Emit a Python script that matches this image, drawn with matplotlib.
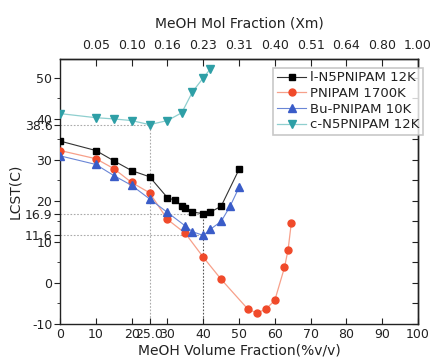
import matplotlib
matplotlib.use("Agg")
import matplotlib.pyplot as plt
from matplotlib.ticker import MultipleLocator, FixedLocator

# ---- data ----
ln5_x = [0, 10, 15, 20, 25, 30, 32, 34, 35, 37, 40, 42, 45, 50]
ln5_y = [34.6, 32.3, 29.8, 27.4, 25.9, 20.8, 20.2, 18.8, 18.3, 17.3, 16.9, 17.3, 18.7, 27.7]

pnipam_x = [0, 10, 15, 20, 25, 30, 35, 40, 45, 52.5, 55, 57.5, 60, 62.7, 63.7, 64.6]
pnipam_y = [32.3, 30.3, 27.9, 24.5, 22.0, 15.5, 12.1, 6.3, 0.9, -6.4, -7.3, -6.4, -4.2, 3.8, 8.1, 14.6]

bu_x = [0, 10, 15, 20, 25, 30, 35, 37, 40, 42, 45, 47.5, 50]
bu_y = [31.0, 28.9, 26.2, 23.8, 20.5, 17.2, 13.9, 12.5, 11.6, 13.1, 15.0, 18.7, 23.3]

cn5_x = [0, 10, 15, 20, 25, 30, 34, 37, 40, 42]
cn5_y = [41.3, 40.3, 40.0, 39.6, 38.6, 39.6, 41.5, 46.6, 50.0, 52.2]

labels = ["l-N5PNIPAM 12K", "PNIPAM 1700K", "Bu-PNIPAM 10K", "c-N5PNIPAM 12K"]

x_ticks = [0, 10, 20, 30, 40, 50, 60, 70, 80, 90, 100]
y_ticks = [-10, 0, 10, 20, 30, 40, 50]
mol_ticks = [10, 20, 30, 40, 50, 60, 70, 80, 90, 100]
mol_labels = ["0.05", "0.10", "0.16", "0.23", "0.31", "0.40", "0.51", "0.64", "0.80", "1.00"]

# reference (guide) values
ref_c_x, ref_c_y = 25.0, 38.6       # c-N5PNIPAM minimum
ref_l_x, ref_l_y = 40.0, 16.9       # l-N5PNIPAM minimum
ref_b_y = 11.6                      # Bu-PNIPAM minimum

# ---- figure ----
fig = plt.figure(figsize=(4.35, 3.6), dpi=100)
ax = fig.add_axes([0.138, 0.1, 0.823, 0.736])
ax.set_xlim(0, 100)
ax.set_ylim(-10, 54.6)

txt = "#222222"
guide = "#aaaaaa"

# guide lines
ax.plot([0, ref_c_x], [ref_c_y, ref_c_y], ls=(0, (1.5, 1.5)), color=guide, lw=0.8, zorder=1)
ax.plot([ref_c_x, ref_c_x], [-10, ref_c_y], ls=(0, (1.5, 1.5)), color=guide, lw=0.8, zorder=1)
ax.plot([0, ref_l_x], [ref_l_y, ref_l_y], ls=(0, (1.5, 1.5)), color=guide, lw=0.8, zorder=1)
ax.plot([0, ref_l_x], [ref_b_y, ref_b_y], ls=(0, (1.5, 1.5)), color=guide, lw=0.8, zorder=1)
ax.plot([ref_l_x, ref_l_x], [-10, ref_l_y], ls=(0, (1.5, 1.5)), color="#555555", lw=0.8, zorder=1)

ax.plot(ln5_x, ln5_y, color="#333333", lw=0.8, marker="s", ms=4.5,
        mfc="black", mec="black", label=labels[0], zorder=5)
ax.plot(pnipam_x, pnipam_y, color="#f7a08a", lw=0.9, marker="o", ms=5,
        mfc="#f04a2a", mec="#f04a2a", label=labels[1], zorder=4)
ax.plot(bu_x, bu_y, color="#6a86d6", lw=0.8, marker="^", ms=5.5,
        mfc="#3a5cc8", mec="#3a5cc8", label=labels[2], zorder=4)
ax.plot(cn5_x, cn5_y, color="#8fcfcf", lw=0.9, marker="v", ms=5.5,
        mfc="#2e9fa6", mec="#2e9fa6", label=labels[3], zorder=4)

# bottom axis
ax.set_xticks(x_ticks + [ref_c_x])
ax.set_xticklabels([str(v) for v in x_ticks] + ["%.1f" % ref_c_x])
ax.tick_params(axis="x", which="both", bottom=True, top=False, direction="in",
               length=4, labelsize=9, colors=txt, pad=3)

# left axis
ax.set_yticks(y_ticks + [ref_c_y, ref_l_y, ref_b_y])
ax.set_yticklabels([str(v) for v in y_ticks] + ["%.1f" % ref_c_y, "%.1f" % ref_l_y, "%.1f" % ref_b_y])
ax.yaxis.set_minor_locator(MultipleLocator(5))
ax.tick_params(axis="y", which="major", left=True, right=False, direction="out",
               length=4, labelsize=9, colors=txt, pad=1.5)
ax.tick_params(axis="y", which="minor", left=True, right=False, direction="out",
               length=2.5, colors=txt)

# right axis (ticks only)
sec_r = ax.secondary_yaxis("right")
sec_r.yaxis.set_major_locator(MultipleLocator(5))
sec_r.tick_params(direction="in", length=4, labelright=False, colors=txt)

# top axis (mol fraction)
sec_t = ax.secondary_xaxis("top")
sec_t.xaxis.set_major_locator(FixedLocator(mol_ticks))
sec_t.set_xticklabels(mol_labels)
sec_t.tick_params(direction="in", length=5, labelsize=9, colors=txt, pad=5)
sec_t.set_xlabel("MeOH Mol Fraction (Xm)", fontsize=10, color=txt, labelpad=8)

for s in list(ax.spines.values()) + list(sec_r.spines.values()) + list(sec_t.spines.values()):
    s.set_color("#222222")
    s.set_linewidth(1.0)

ax.set_xlabel("MeOH Volume Fraction(%v/v)", fontsize=10, color=txt, labelpad=2)
ax.set_ylabel("LCST(C)", fontsize=10, color=txt, labelpad=2)

leg = ax.legend(loc="upper right", bbox_to_anchor=(1.015, 0.968), fontsize=9.5,
                frameon=True, fancybox=False, edgecolor="#bbbbbb",
                borderpad=0.3, labelspacing=0.2, handlelength=2.2,
                handletextpad=0.3, borderaxespad=0.0)
leg.get_frame().set_linewidth(1.2)
for t in leg.get_texts():
    t.set_color(txt)

fig.savefig("out.png", dpi=100)
